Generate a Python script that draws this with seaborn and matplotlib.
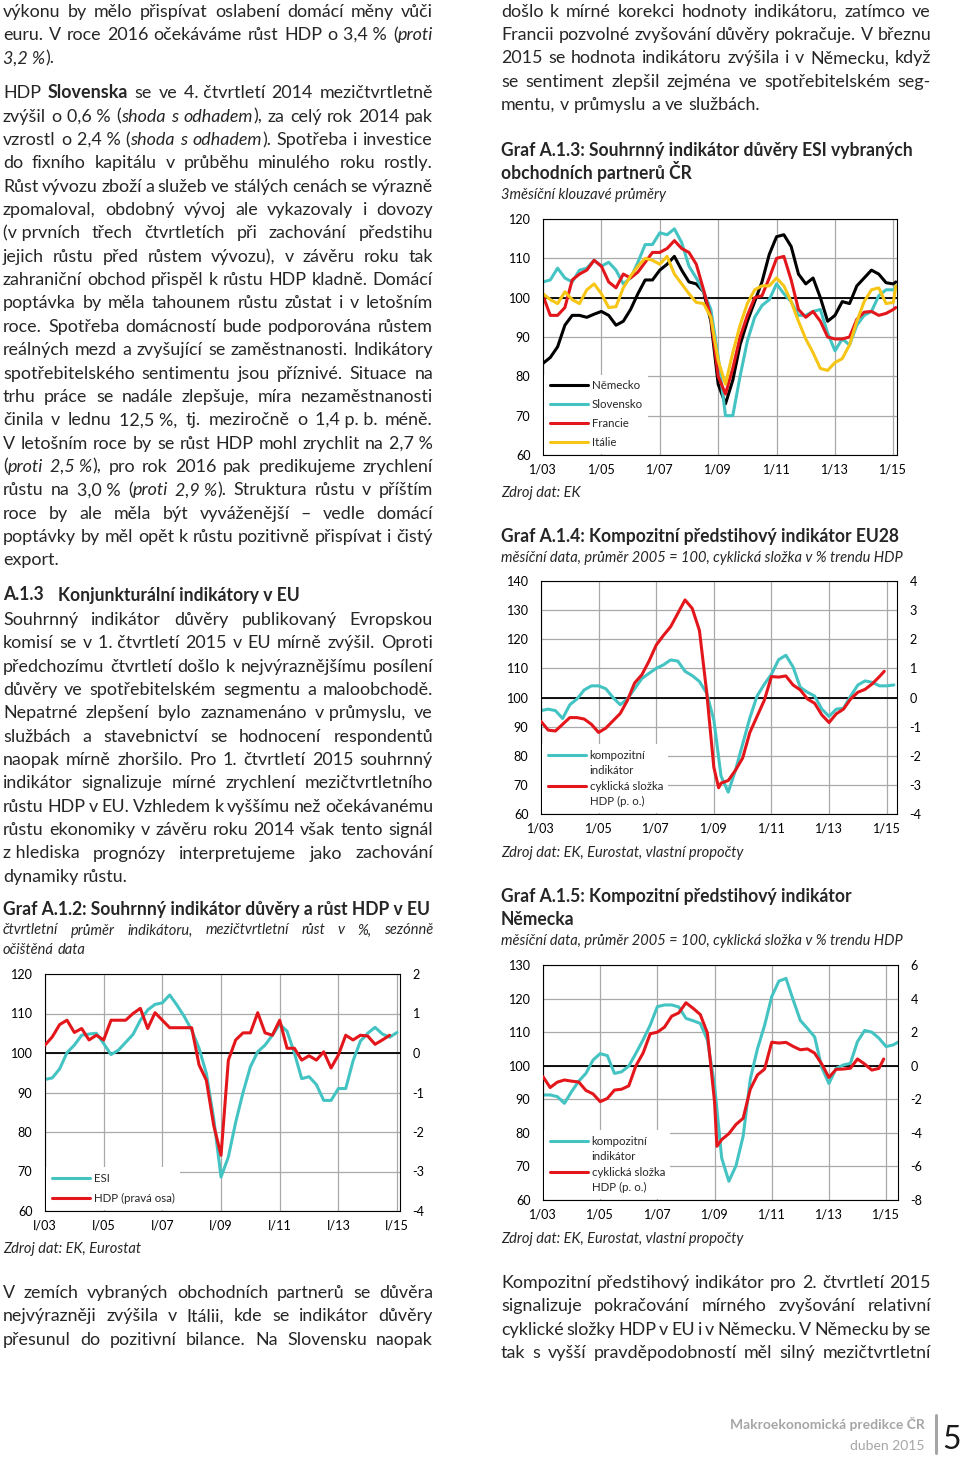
import matplotlib
matplotlib.use("Agg")
import numpy as np
import matplotlib.pyplot as plt
from matplotlib.lines import Line2D
import seaborn as sns

W, H = 960, 1457
BODY = 12.85
TITLE = 12.65
SUB = 10.5
SRC = 10.5
TICK = 9.1
LEG = 8.3
LEAD = 23.35

TEAL = "#44C3C3"
RED = "#E3161B"
YELLOW = "#F6C515"
GRID = "#A9A9A9"
GREY = "#A6A6A6"

# ---------------- data: Graf A.1.2 (quarterly, I/03 .. I/15) ----------------
q_labels = ["I/03", "I/05", "I/07", "I/09", "I/11", "I/13", "I/15"]
esi_eu_q = list(range(0, 49))
esi_eu = [93.3, 93.7, 96.0, 100.1, 102.0, 104.5, 104.8, 105.0, 102.4, 99.6,
          100.7, 102.7, 104.7, 108.3, 110.9, 112.3, 112.7, 114.7, 112.1, 109.2,
          105.8, 101.2, 94.8, 83.4, 68.6, 73.7, 82.5, 90.0, 96.5, 100.3,
          102.0, 104.5, 107.3, 105.5, 100.0, 93.5, 94.0, 92.0, 88.0, 88.0,
          91.0, 91.0, 98.0, 103.0, 105.0, 106.5, 104.8, 104.0, 105.2]
hdp_eu_q = list(range(0, 48))
hdp_eu = [0.20, 0.41, 0.72, 0.83, 0.52, 0.62, 0.33, 0.45, 0.33, 0.83,
          0.83, 0.83, 1.00, 1.13, 0.62, 1.02, 0.83, 0.64, 0.64, 0.64,
          0.64, -0.30, -0.69, -1.83, -2.59, -0.18, 0.33, 0.51, 0.51, 1.02,
          0.51, 0.45, 0.83, 0.12, 0.12, -0.18, -0.07, -0.18, 0.03, -0.38,
          -0.05, 0.45, 0.33, 0.45, 0.43, 0.22, 0.33, 0.45]

# ---------------- data: Graf A.1.3 (months since 1/03) ----------------
m_labels = ["1/03", "1/05", "1/07", "1/09", "1/11", "1/13", "1/15"]
esi_m = list(range(0, 145, 3)) + [145]
nemecko = [83.3, 84.8, 87.5, 93.0, 95.5, 95.5, 95.0, 95.8, 96.5, 95.5,
           93.0, 94.0, 97.0, 101.0, 104.5, 104.5, 107.0, 108.5, 110.5, 107.0,
           104.0, 103.5, 101.5, 94.0, 78.0, 73.0, 79.0, 88.0, 94.0, 99.0,
           104.0, 111.0, 115.5, 116.0, 113.0, 106.0, 103.5, 105.0, 100.0, 94.0,
           95.5, 99.0, 98.5, 103.0, 105.0, 107.0, 106.0, 103.8, 103.5, 104.0]
slovensko = [104.0, 104.5, 107.5, 105.0, 104.0, 107.0, 107.5, 109.5, 108.0, 109.0,
             107.0, 103.5, 105.0, 109.0, 113.5, 113.5, 116.5, 116.0, 117.5, 114.0,
             108.0, 105.0, 101.5, 97.0, 85.0, 70.0, 70.0, 80.0, 89.0, 95.0,
             98.0, 99.5, 103.5, 101.0, 99.0, 95.5, 95.5, 96.5, 97.0, 91.0,
             86.5, 89.5, 88.0, 93.0, 95.5, 96.5, 100.5, 102.0, 102.0, 103.0]
francie = [100.5, 95.5, 95.5, 97.5, 104.5, 106.0, 107.0, 109.5, 108.0, 104.0,
           102.5, 106.0, 105.0, 106.5, 109.0, 111.5, 111.5, 112.5, 114.5, 112.5,
           111.5, 108.5, 102.0, 95.0, 80.0, 75.5, 82.0, 90.0, 95.5, 100.0,
           100.5, 105.0, 110.0, 110.5, 104.5, 97.0, 95.0, 96.5, 94.0, 90.0,
           89.5, 89.5, 90.0, 94.5, 96.3, 96.5, 95.5, 96.0, 97.0, 97.5]
italie = [101.0, 99.5, 98.5, 101.5, 99.5, 98.5, 102.0, 103.5, 101.0, 97.5,
          97.7, 102.5, 105.5, 108.0, 110.0, 109.5, 108.5, 110.5, 106.0, 103.5,
          101.0, 98.8, 98.5, 95.0, 84.0, 78.0, 86.0, 93.0, 98.5, 102.0,
          103.0, 103.0, 105.0, 103.0, 99.0, 94.0, 89.5, 86.0, 82.0, 81.5,
          83.5, 84.5, 88.0, 94.0, 99.0, 102.0, 102.5, 98.5, 98.8, 103.0]

# ---------------- data: Graf A.1.4 (EU28) ----------------
cli_eu_m = list(range(0, 148, 3))
cli_eu = [95.5, 96.0, 95.5, 92.8, 97.5, 99.5, 102.6, 104.0, 104.0, 103.0,
          100.0, 97.5, 99.5, 103.0, 106.5, 108.3, 110.0, 111.2, 112.9, 112.5,
          109.0, 107.5, 105.5, 101.5, 92.3, 73.0, 67.5, 75.0, 84.0, 93.0,
          100.5, 104.5, 108.0, 113.0, 114.5, 110.5, 103.5, 101.8, 100.5, 96.0,
          93.5, 96.0, 96.3, 100.5, 104.3, 105.7, 105.2, 104.0, 104.0, 104.3]
cyc_eu_m = list(range(0, 73, 3)) + [74] + list(range(75, 142, 3)) + [143]
cyc_eu = [-0.82, -1.12, -1.15, -0.92, -0.69, -0.69, -0.74, -0.92, -1.20, -1.05,
          -0.80, -0.55, -0.10, 0.50, 0.78, 1.25, 1.80, 2.13, 2.43, 2.89,
          3.35, 3.06, 2.30, 0.20, -2.40, -3.10,
          -2.94, -2.85, -2.50, -2.08, -1.20, -0.65, -0.10, 0.72, 0.70, 0.74,
          0.43, 0.26, -0.05, -0.20, -0.60, -0.86, -0.56, -0.40, -0.05, 0.18,
          0.28, 0.47, 0.72, 0.90]

# ---------------- data: Graf A.1.5 (Německo) ----------------
cli_de_m = list(range(0, 148, 3)) + [149]
cli_de = [91.3, 91.3, 90.8, 88.8, 92.3, 95.4, 97.7, 101.7, 103.6, 103.0,
          97.7, 98.2, 99.9, 103.7, 107.7, 112.1, 117.6, 118.1, 118.1, 117.5,
          114.1, 113.4, 112.6, 107.7, 94.2, 72.5, 65.6, 70.2, 79.0, 96.0,
          105.0, 112.0, 120.6, 125.2, 126.0, 119.6, 113.5, 111.1, 108.6, 99.5,
          94.7, 99.2, 100.2, 100.7, 107.2, 110.5, 110.0, 108.2, 105.7, 106.2,
          107.0]
cyc_de_m = list(range(0, 73, 3)) + [73] + list(range(75, 142, 3)) + [143]
cyc_de = [-0.65, -1.30, -0.98, -0.85, -0.92, -0.97, -1.47, -1.68, -2.14, -1.95,
          -1.45, -1.40, -1.20, 0.00, 0.75, 1.90, 2.00, 2.30, 2.95, 3.15,
          3.75, 3.42, 3.05, 1.95, -2.14, -4.80,
          -4.40, -4.05, -3.50, -3.13, -1.40, -0.55, -0.20, 1.40, 1.35, 1.39,
          1.15, 0.95, 1.00, 0.75, 0.10, -0.70, -0.22, -0.20, -0.15, 0.40,
          0.10, -0.26, -0.16, 0.40]

# ---------------- text ----------------
# '*' toggles italic, '^' toggles bold, '~' is a fixed (non stretching) space
par1 = ["výkonu by mělo přispívat oslabení domácí měny vůči",
        "euru. V roce 2016 očekáváme růst HDP o 3,4~% (*proti*",
        "*3,2~%*)."]
par2 = ["HDP ^Slovenska^ se ve 4.~čtvrtletí 2014 mezičtvrtletně",
        "zvýšil o 0,6~% (*shoda s odhadem*), za celý rok 2014 pak",
        "vzrostl o 2,4~% (*shoda s odhadem*). Spotřeba i investice",
        "do fixního kapitálu v průběhu minulého roku rostly.",
        "Růst vývozu zboží a služeb ve stálých cenách se výrazně",
        "zpomaloval, obdobný vývoj ale vykazovaly i dovozy",
        "(v~prvních třech čtvrtletích při zachování předstihu",
        "jejich růstu před růstem vývozu), v závěru roku tak",
        "zahraniční obchod přispěl k růstu HDP kladně. Domácí",
        "poptávka by měla tahounem růstu zůstat i v letošním",
        "roce. Spotřeba domácností bude podporována růstem",
        "reálných mezd a zvyšující se zaměstnanosti. Indikátory",
        "spotřebitelského sentimentu jsou příznivé. Situace na",
        "trhu práce se nadále zlepšuje, míra nezaměstnanosti",
        "činila v lednu 12,5~%, tj. meziročně o 1,4~p.~b. méně.",
        "V letošním roce by se růst HDP mohl zrychlit na 2,7~%",
        "(*proti 2,5~%*), pro rok 2016 pak predikujeme zrychlení",
        "růstu na 3,0~% (*proti 2,9~%*). Struktura růstu v příštím",
        "roce by ale měla být vyváženější – vedle domácí",
        "poptávky by měl opět k růstu pozitivně přispívat i čistý",
        "export."]
par3 = ["Souhrnný indikátor důvěry publikovaný Evropskou",
        "komisí se v 1.~čtvrtletí 2015 v EU mírně zvýšil. Oproti",
        "předchozímu čtvrtletí došlo k nejvýraznějšímu posílení",
        "důvěry ve spotřebitelském segmentu a maloobchodě.",
        "Nepatrné zlepšení bylo zaznamenáno v~průmyslu, ve",
        "službách a stavebnictví se hodnocení respondentů",
        "naopak mírně zhoršilo. Pro 1. čtvrtletí 2015 souhrnný",
        "indikátor signalizuje mírné zrychlení mezičtvrtletního",
        "růstu HDP v EU. Vzhledem k vyššímu než očekávanému",
        "růstu ekonomiky v závěru roku 2014 však tento signál",
        "z~hlediska prognózy interpretujeme jako zachování",
        "dynamiky růstu."]
par4 = ["V zemích vybraných obchodních partnerů se důvěra",
        "nejvýrazněji zvýšila v Itálii, kde se indikátor důvěry",
        "přesunul do pozitivní bilance. Na Slovensku naopak"]
par5 = ["došlo k mírné korekci hodnoty indikátoru, zatímco ve",
        "Francii pozvolné zvyšování důvěry pokračuje. V březnu",
        "2015 se hodnota indikátoru zvýšila i v Německu, když",
        "se sentiment zlepšil zejména ve spotřebitelském seg-",
        "mentu, v průmyslu a ve službách."]
par6 = ["Kompozitní předstihový indikátor pro 2. čtvrtletí 2015",
        "signalizuje pokračování mírného zvyšování relativní",
        "cyklické složky HDP v EU i v Německu. V Německu by se",
        "tak s vyšší pravděpodobností měl silný mezičtvrtletní"]
sub2 = ["čtvrtletní průměr indikátoru, mezičtvrtletní růst v %, sezónně",
        "očištěná data"]
sub45 = "měsíční data, průměr 2005 = 100, cyklická složka v % trendu HDP"

sns.set_style("white")
plt.rcParams["font.family"] = ["Lato", "DejaVu Sans"]
plt.rcParams["axes.unicode_minus"] = False

fig = plt.figure(figsize=(W / 100, H / 100), dpi=100)
renderer = fig.canvas.get_renderer()


def put(x, y, s, style="n", size=BODY, **kw):
    return fig.text(x / W, 1 - y / H, s, fontsize=size,
                    fontweight="bold" if style == "b" else "normal",
                    fontstyle="italic" if style == "i" else "normal",
                    va="baseline", **kw)


def width(t):
    return t.get_window_extent(renderer).width


def space_width(size, style):
    a = put(0, 0, "a a", style, size)
    b = put(0, 0, "aa", style, size)
    w = width(a) - width(b)
    a.remove()
    b.remove()
    return w


def split_words(line, state):
    words = []
    for word in line.split(" "):
        segs, cur = [], ""
        for ch in word:
            if ch in "*^":
                if cur:
                    segs.append((cur, state["s"]))
                cur = ""
                flip = "i" if ch == "*" else "b"
                state["s"] = "n" if state["s"] == flip else flip
            else:
                cur += " " if ch == "~" else ch
        if cur:
            segs.append((cur, state["s"]))
        words.append(segs)
    return words


def paragraph(lines, x0, x1, y0, lead=LEAD, size=BODY, style="n", last_free=True):
    state = {"s": style}
    sp = space_width(size, style)
    for i, line in enumerate(lines):
        y = y0 + i * lead
        placed = []
        for segs in split_words(line, state):
            ts = [put(0, y, txt, st, size) for txt, st in segs]
            placed.append((ts, [width(t) for t in ts]))
        total = sum(sum(ws) for _, ws in placed)
        free = last_free and i == len(lines) - 1
        gap = sp if free or len(placed) < 2 else (x1 - x0 - total) / (len(placed) - 1)
        x = x0
        for ts, ws in placed:
            for t, w in zip(ts, ws):
                t.set_x(x / W)
                x += w
            x += gap


def make_axes(left, top, right, bottom, ylim, ystep, xmax, xticks, xlabels):
    ax = fig.add_axes([left / W, 1 - bottom / H, (right - left) / W, (bottom - top) / H])
    ax.set_xlim(0, xmax)
    ax.set_ylim(*ylim)
    ax.set_yticks(np.arange(ylim[0], ylim[1] + 0.1, ystep))
    ax.set_xticks(xticks)
    ax.set_xticklabels(xlabels)
    ax.grid(True, color=GRID, lw=0.9)
    ax.set_axisbelow(True)
    ax.axhline(100, color="black", lw=1.3, zorder=1.5)
    ax.tick_params(axis="both", length=0, labelsize=TICK, colors="black")
    ax.tick_params(axis="y", pad=9)
    ax.tick_params(axis="x", pad=6)
    for s in ax.spines.values():
        s.set_visible(True)
        s.set_color("black")
        s.set_linewidth(0.8)
    return ax


def right_axis(ax, ylim, ystep):
    ax2 = ax.twinx()
    ax2.set_ylim(*ylim)
    ticks = np.arange(ylim[0], ylim[1] + 0.1, ystep)
    ax2.set_yticks(ticks)
    ax2.set_yticklabels([f"{v:g}" for v in ticks])
    ax2.grid(False)
    ax2.tick_params(axis="y", length=0, labelsize=TICK, pad=9, colors="black")
    for s in ax2.spines.values():
        s.set_visible(False)
    return ax2


def legend(ax, handles, labels, spacing=0.35):
    lg = ax.legend(handles, labels, loc="lower left", fontsize=LEG, frameon=True,
                   facecolor="white", edgecolor="none", framealpha=1, fancybox=False,
                   handlelength=3.3, handletextpad=0.35, labelspacing=spacing,
                   borderpad=0.45, borderaxespad=0.12)
    lg.set_zorder(10)


LW = 2.2
blank = Line2D([], [], color="none")

# ---------------- left column text ----------------
paragraph(par1, 3, 433, 16.7)
paragraph(par2, 3, 433, 98.3)
put(3, 600.5, "A.1.3", "b", TITLE)
put(58, 600.5, "Konjunkturální indikátory v EU", "b", TITLE)
paragraph(par3, 3, 433, 625)
put(3, 915, "Graf A.1.2: Souhrnný indikátor důvěry a růst HDP v EU", "b", TITLE)
paragraph(sub2, 3, 433, 934.5, lead=19, size=SUB, style="i")
put(3, 1253, "Zdroj dat: EK, Eurostat", "i", SRC)
paragraph(par4, 3, 433, 1298, last_free=False)

# ---------------- right column text ----------------
paragraph(par5, 501, 931, 16.7)
put(501, 156, "Graf A.1.3: Souhrnný indikátor důvěry ESI vybraných", "b", TITLE)
put(501, 179.5, "obchodních partnerů ČR", "b", TITLE)
put(501, 199, "3měsíční klouzavé průměry", "i", SUB)
put(501, 497, "Zdroj dat: EK", "i", SRC)
put(501, 542, "Graf A.1.4: Kompozitní předstihový indikátor EU28", "b", TITLE)
put(501, 562, sub45, "i", SUB)
put(501, 857, "Zdroj dat: EK, Eurostat, vlastní propočty", "i", SRC)
put(501, 902, "Graf A.1.5: Kompozitní předstihový indikátor", "b", TITLE)
put(501, 925, "Německa", "b", TITLE)
put(501, 945, sub45, "i", SUB)
put(501, 1243, "Zdroj dat: EK, Eurostat, vlastní propočty", "i", SRC)
paragraph(par6, 501, 931, 1288, last_free=False)

# footer
put(925, 1429, "Makroekonomická predikce ČR", "b", 10, ha="right", color=GREY)
put(925, 1450, "duben 2015", "n", 10, ha="right", color=GREY)
fig.add_artist(Line2D([935.5 / W] * 2, [1 - 1415 / H, 1 - 1453 / H],
                      color=GREY, lw=2.2, transform=fig.transFigure))
put(942, 1449, "5", "n", 23, color="#1A1A1A")

# ---------------- Graf A.1.2 ----------------
ax = make_axes(45, 974, 400, 1211, (60, 120), 10, 48.4, range(0, 49, 8), q_labels)
sns.lineplot(x=esi_eu_q, y=esi_eu, ax=ax, color=TEAL, lw=LW, label="ESI", legend=False)
ax2 = right_axis(ax, (-4, 2), 1)
sns.lineplot(x=hdp_eu_q, y=hdp_eu, ax=ax2, color=RED, lw=LW, label="HDP (pravá osa)", legend=False)
legend(ax2, [ax.lines[-1], ax2.lines[-1]], ["ESI", "HDP (pravá osa)"], spacing=0.85)

# ---------------- Graf A.1.3 ----------------
ax = make_axes(543, 219, 897, 455, (60, 120), 10, 145.5, range(0, 145, 24), m_labels)
for vals, col, name in [(nemecko, "black", "Německo"), (slovensko, TEAL, "Slovensko"),
                        (francie, RED, "Francie"), (italie, YELLOW, "Itálie")]:
    sns.lineplot(x=esi_m, y=vals, ax=ax, color=col, lw=LW, label=name, legend=False)
legend(ax, ax.lines[-4:], ["Německo", "Slovensko", "Francie", "Itálie"], spacing=0.7)

# ---------------- Graf A.1.4 ----------------
ax = make_axes(541, 581, 897, 814, (60, 140), 10, 148.3, range(0, 145, 24), m_labels)
sns.lineplot(x=cli_eu_m, y=cli_eu, ax=ax, color=TEAL, lw=LW, legend=False)
ax2 = right_axis(ax, (-4, 4), 1)
sns.lineplot(x=cyc_eu_m, y=cyc_eu, ax=ax2, color=RED, lw=LW, legend=False)
legend(ax2, [ax.lines[-1], blank, ax2.lines[-1], blank],
       ["kompozitní", "indikátor", "cyklická složka", "HDP (p. o.)"], spacing=0.4)

# ---------------- Graf A.1.5 ----------------
ax = make_axes(543, 965, 898, 1200, (60, 130), 10, 149, range(0, 145, 24), m_labels)
sns.lineplot(x=cli_de_m, y=cli_de, ax=ax, color=TEAL, lw=LW, legend=False)
ax2 = right_axis(ax, (-8, 6), 2)
sns.lineplot(x=cyc_de_m, y=cyc_de, ax=ax2, color=RED, lw=LW, legend=False)
legend(ax2, [ax.lines[-1], blank, ax2.lines[-1], blank],
       ["kompozitní", "indikátor", "cyklická složka", "HDP (p. o.)"], spacing=0.4)

fig.savefig("out.png", dpi=100, facecolor="white")
